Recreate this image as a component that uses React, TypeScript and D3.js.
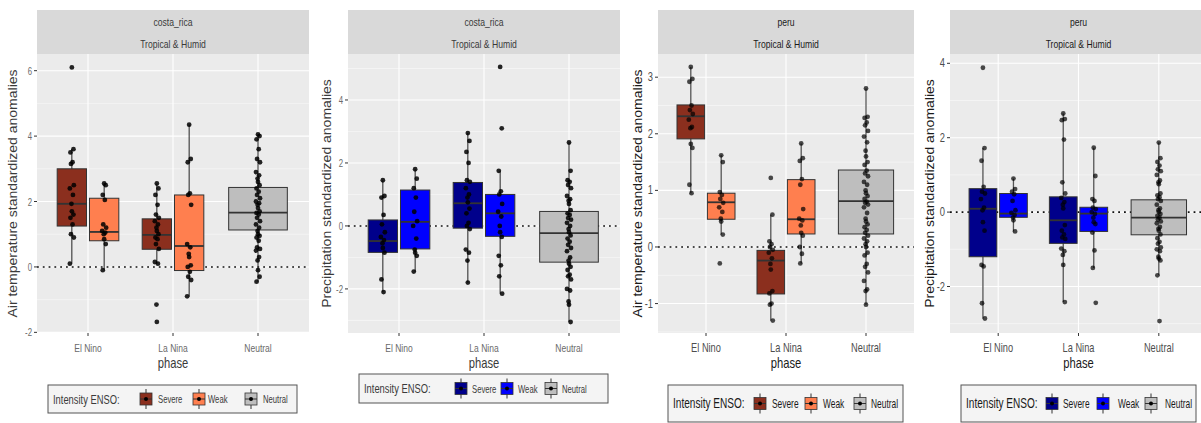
import React from "react";
import * as d3 from "d3";

// ---------- categories ----------
const phases = ["El Nino", "La Nina", "Neutral"];
const intensityLabels = ["Severe", "Weak", "Neutral"];
// group order: El Nino Severe, El Nino Weak, La Nina Severe, La Nina Weak, Neutral
const groupPhase = [0, 0, 1, 1, 2];
const groupIntensity = [0, 1, 0, 1, 2];

// ---------- Costa Rica, air temperature ----------
const crTempElNinoSevere = [6.1, 3.6, 3.5, 3.2, 3.15, 2.5, 2.4, 2.2, 1.93, 1.7, 1.6, 1.5, 1.3, 1.0, 0.9, 0.1];
const crTempElNinoWeak = [2.55, 2.5, 2.2, 2.05, 1.3, 1.2, 1.1, 1.05, 1.0, 0.85, 0.7, -0.1];
const crTempLaNinaSevere = [2.55, 2.4, 2.2, 1.9, 1.6, 1.5, 1.4, 1.3, 1.2, 1.1, 1.0, 0.9, 0.85, 0.7, 0.55, 0.15, 0.1, -1.15, -1.68];
const crTempLaNinaWeak = [4.35, 3.3, 3.2, 2.25, 2.2, 1.9, 0.7, 0.6, 0.4, 0.3, 0.05, 0.0, -0.15, -0.3, -0.4, -0.9];
const crTempNeutral = [4.05, 4.0, 3.9, 3.6, 3.3, 3.2, 2.9, 2.8, 2.7, 2.6, 2.5, 2.4, 2.3, 2.2, 2.1, 2.0, 1.95, 1.9, 1.8, 1.7, 1.65, 1.6, 1.5, 1.4, 1.3, 1.2, 1.1, 1.0, 0.95, 0.9, 0.8, 0.6, 0.55, 0.5, 0.3, 0.2, -0.1, -0.3, -0.45];
// [lower whisker, Q1, median, Q3, upper whisker]
const crTempBoxes = [
  [0.1, 1.25, 1.93, 3.0, 3.6],
  [-0.1, 0.8, 1.07, 2.1, 2.55],
  [0.1, 0.54, 0.98, 1.47, 2.55],
  [-0.9, -0.11, 0.64, 2.2, 4.35],
  [-0.45, 1.13, 1.66, 2.43, 4.05],
];

// ---------- Costa Rica, precipitation ----------
const crPrecElNinoSevere = [1.45, 0.95, 0.9, 0.35, 0.05, -0.2, -0.35, -0.45, -0.55, -0.7, -0.85, -1.7, -2.1];
const crPrecElNinoWeak = [1.8, 1.5, 1.2, 0.9, 0.45, 0.15, 0.0, -0.4, -0.75, -0.85, -0.95, -1.45];
const crPrecLaNinaSevere = [2.95, 2.7, 2.35, 2.0, 1.45, 1.4, 1.2, 1.0, 0.9, 0.75, 0.55, 0.4, 0.1, 0.0, -0.1, -0.75, -0.85, -1.1, -1.8];
const crPrecLaNinaWeak = [5.05, 3.1, 1.75, 1.1, 1.0, 0.7, 0.45, 0.3, 0.0, -0.2, -0.35, -0.95, -1.25, -1.6, -2.15];
const crPrecNeutral = [2.65, 1.75, 1.45, 1.4, 1.3, 1.2, 0.95, 0.85, 0.8, 0.7, 0.5, 0.4, 0.35, 0.25, 0.2, 0.1, 0.0, -0.1, -0.2, -0.3, -0.4, -0.5, -0.6, -0.7, -0.8, -1.0, -1.1, -1.2, -1.3, -1.4, -1.55, -1.6, -1.7, -2.0, -2.05, -2.4, -2.5, -3.05];
const crPrecBoxes = [
  [-2.1, -0.84, -0.48, 0.19, 1.45],
  [-1.45, -0.73, 0.13, 1.14, 1.8],
  [-1.8, -0.07, 0.72, 1.38, 2.95],
  [-2.15, -0.33, 0.4, 1.0, 1.75],
  [-3.05, -1.15, -0.23, 0.46, 2.65],
];

// ---------- Peru, air temperature ----------
const peTempElNinoSevere = [3.18, 2.97, 2.92, 2.5, 2.42, 2.35, 2.25, 2.12, 2.1, 1.82, 1.75, 1.1, 0.95];
const peTempElNinoWeak = [1.62, 1.5, 0.97, 0.92, 0.85, 0.78, 0.7, 0.62, 0.5, 0.45, 0.22, -0.29];
const peTempLaNinaSevere = [1.22, 0.57, 0.1, 0.05, 0.0, -0.05, -0.1, -0.2, -0.3, -0.4, -0.78, -0.82, -1.0, -1.02, -1.3];
const peTempLaNinaWeak = [1.83, 1.57, 1.52, 1.2, 1.1, 0.67, 0.5, 0.47, 0.38, 0.25, 0.2, 0.0, -0.12, -0.29];
const peTempNeutral = [2.8, 2.3, 2.28, 2.2, 2.15, 2.05, 1.95, 1.85, 1.7, 1.6, 1.5, 1.45, 1.35, 1.3, 1.25, 1.15, 1.1, 1.0, 0.95, 0.9, 0.85, 0.8, 0.78, 0.75, 0.7, 0.6, 0.5, 0.45, 0.4, 0.35, 0.3, 0.25, 0.2, 0.15, 0.1, 0.05, 0.0, -0.1, -0.15, -0.3, -0.35, -0.45, -0.6, -0.75, -0.78, -1.02];
const peTempBoxes = [
  [0.95, 1.91, 2.31, 2.51, 3.18],
  [0.22, 0.49, 0.79, 0.95, 1.62],
  [-1.3, -0.83, -0.24, -0.06, 0.57],
  [-0.29, 0.23, 0.49, 1.19, 1.83],
  [-1.02, 0.23, 0.81, 1.36, 2.8],
];

// ---------- Peru, precipitation ----------
const pePrecElNinoSevere = [3.88, 1.72, 1.38, 0.68, 0.55, 0.5, 0.35, 0.12, 0.05, -0.27, -0.5, -1.42, -1.46, -2.45, -2.86];
const pePrecElNinoWeak = [0.9, 0.62, 0.55, 0.48, 0.3, 0.05, -0.02, -0.08, -0.15, -0.22, -0.52];
const pePrecLaNinaSevere = [2.65, 2.5, 2.47, 1.95, 0.8, 0.5, 0.38, 0.27, 0.2, 0.1, -0.35, -0.5, -0.6, -0.68, -0.72, -0.98, -1.05, -1.15, -1.42, -2.42];
const pePrecLaNinaWeak = [1.73, 0.97, 0.35, 0.3, 0.12, 0.08, 0.0, -0.05, -0.15, -0.27, -0.32, -0.55, -1.03, -1.5, -2.44];
const pePrecNeutral = [1.87, 1.45, 1.35, 1.25, 1.15, 1.1, 1.0, 0.85, 0.8, 0.75, 0.5, 0.45, 0.4, 0.35, 0.3, 0.2, 0.1, 0.05, 0.0, -0.05, -0.1, -0.15, -0.2, -0.25, -0.3, -0.4, -0.45, -0.5, -0.6, -0.7, -0.8, -0.85, -0.95, -1.0, -1.05, -1.2, -1.25, -1.3, -1.7, -2.93];
const pePrecBoxes = [
  [-2.86, -1.2, 0.09, 0.63, 1.72],
  [-0.52, -0.14, -0.04, 0.5, 0.9],
  [-2.42, -0.84, -0.22, 0.41, 2.65],
  [-1.5, -0.52, -0.04, 0.13, 1.73],
  [-1.7, -0.61, -0.15, 0.33, 1.87],
];

// ---------- tick labels ----------
const crTempTicks = [-2, 0, 2, 4, 6];
const crPrecTicks = [-2, 0, 2, 4];
const peTempTicks = [-1, 0, 1, 2, 3];
const pePrecTicks = [-2, 0, 2, 4];

const tempColors = ["#8B2F1E", "#FF7F4F", "#BEBEBE"];
const precColors = ["#00008B", "#0000FF", "#BEBEBE"];

const FONT = "'Liberation Sans', Arial, sans-serif";
const SX = 0.78; // horizontal squeeze of the reference's lettering

type Cfg = {
  left: number; right: number; yDomain: [number, number];
  ticks: number[]; minor: number[];
  country: string; title: string; titleX: number;
  groups: number[][]; boxes: number[][]; colors: string[];
  legend: { x0: number; x1: number; y0: number; y1: number; keys: number[]; labels: number[] };
  soft: boolean;
};

const TOP = 10, STRIP_B = 54, BOTTOM = 333;
const jit = [0, 1.6, -1.4, 0.7, -0.9, 2.0, -2.0, 1.1, -0.4];

function HText(props: { x: number; y: number; size: number; fill: string; anchor?: string; sx?: number; children: React.ReactNode }) {
  const s = props.sx ?? SX;
  return (
    <g transform={`translate(${props.x},${props.y}) scale(${s},1)`}>
      <text x={0} y={0} textAnchor={props.anchor ?? "start"} fontSize={props.size} fill={props.fill} fontFamily={FONT}>
        {props.children}
      </text>
    </g>
  );
}

function Panel({ c }: { c: Cfg }) {
  const x = d3.scaleLinear().domain([0.4, 3.6]).range([c.left, c.right]);
  const y = d3.scaleLinear().domain(c.yDomain).range([BOTTOM, STRIP_B]);
  const u = x(1) - x(0);
  const tickCol = c.soft ? "#6a6a6a" : "#4D4D4D";
  const titleCol = c.soft ? "#3a3a3a" : "#1A1A1A";
  const tickFs = c.soft ? 10 : 12;
  return (
    <g>
      <rect x={c.left} y={STRIP_B} width={c.right - c.left} height={BOTTOM - STRIP_B} fill="#EBEBEB" />
      {c.minor.map((t) => (
        <line key={"mn" + t} x1={c.left} x2={c.right} y1={y(t)} y2={y(t)} stroke="#FAFAFA" strokeWidth={0.6} />
      ))}
      {c.ticks.map((t) => (
        <line key={"mj" + t} x1={c.left} x2={c.right} y1={y(t)} y2={y(t)} stroke="#FFFFFF" strokeWidth={1.1} />
      ))}
      {phases.map((p, i) => (
        <line key={"v" + p} x1={x(i + 1)} x2={x(i + 1)} y1={STRIP_B} y2={BOTTOM} stroke="#FFFFFF" strokeWidth={1.1} />
      ))}
      <rect x={c.left} y={TOP} width={c.right - c.left} height={STRIP_B - TOP} fill="#D9D9D9" />
      <HText x={(c.left + c.right) / 2} y={26} anchor="middle" size={10.5} fill={titleCol} sx={0.82}>{c.country}</HText>
      <HText x={(c.left + c.right) / 2} y={48} anchor="middle" size={10.5} fill={titleCol} sx={0.82}>Tropical &amp; Humid</HText>
      <line x1={c.left} x2={c.right} y1={y(0)} y2={y(0)} stroke="#111" strokeWidth={1.6} strokeDasharray="1.8,4" />
      {c.boxes.map((b, gi) => {
        const ph = groupPhase[gi] + 1;
        const it = groupIntensity[gi];
        const off = it === 2 ? 0 : it === 0 ? -0.19 : 0.19;
        const w = (it === 2 ? 0.69 : 0.345) * u;
        const cx = x(ph + off);
        return (
          <g key={"b" + gi}>
            <line x1={cx} x2={cx} y1={y(b[0])} y2={y(b[4])} stroke={c.soft ? "#222" : "#555"} strokeWidth={c.soft ? 1 : 1.3} />
            <rect x={cx - w / 2} y={y(b[3])} width={w} height={y(b[1]) - y(b[3])} fill={c.colors[it]} stroke="#333" strokeWidth={1} />
            <line x1={cx - w / 2} x2={cx + w / 2} y1={y(b[2])} y2={y(b[2])} stroke="#333" strokeWidth={1.8} />
            {c.groups[gi].map((v, i) => (
              <circle key={i} cx={cx + jit[i % jit.length]} cy={y(v)} r={2.4} fill="#000" fillOpacity={c.soft ? 0.85 : 0.7} />
            ))}
          </g>
        );
      })}
      {c.ticks.map((t) => (
        <g key={"t" + t}>
          <line x1={c.left - 3} x2={c.left} y1={y(t)} y2={y(t)} stroke="#333" strokeWidth={1} />
          <HText x={c.left - 5} y={y(t) + 4} anchor="end" size={tickFs} fill={tickCol}>{t}</HText>
        </g>
      ))}
      {phases.map((p, i) => (
        <g key={"x" + p}>
          <line x1={x(i + 1)} x2={x(i + 1)} y1={BOTTOM} y2={BOTTOM + 3} stroke="#333" strokeWidth={1} />
          <HText x={x(i + 1)} y={352} anchor="middle" size={c.soft ? 11.5 : 12.5} fill={tickCol} sx={0.74}>{p}</HText>
        </g>
      ))}
      <HText x={(c.left + c.right) / 2} y={368} anchor="middle" size={14} fill={titleCol} sx={0.8}>phase</HText>
      <g transform={`translate(${c.titleX},${(STRIP_B + BOTTOM) / 2}) rotate(-90) scale(1,0.85)`}>
        <text x={0} y={0} textAnchor="middle" fontSize={14} fill={titleCol} fontFamily={FONT}>{c.title}</text>
      </g>
      <Legend c={c} />
    </g>
  );
}

function Legend({ c }: { c: Cfg }) {
  const L = c.legend;
  const cy = (L.y0 + L.y1) / 2;
  const fs = c.soft ? 12 : 13;
  const col = c.soft ? "#3a3a3a" : "#1A1A1A";
  return (
    <g>
      <rect x={L.x0} y={L.y0} width={L.x1 - L.x0} height={L.y1 - L.y0} fill="#F4F4F4" stroke="#555" strokeWidth={1} />
      <HText x={L.x0 + 5} y={cy + 4.5} size={fs + 1} fill={col} sx={0.72}>Intensity ENSO:</HText>
      {intensityLabels.map((lab, i) => {
        const kx = L.keys[i];
        return (
          <g key={lab}>
            <line x1={kx} x2={kx} y1={cy - 10} y2={cy + 10} stroke="#333" strokeWidth={1} />
            <rect x={kx - 6} y={cy - 6} width={12} height={12} fill={c.colors[i]} stroke="#333" strokeWidth={0.8} />
            <line x1={kx - 6} x2={kx + 6} y1={cy} y2={cy} stroke="#333" strokeWidth={1} />
            <circle cx={kx} cy={cy} r={2} fill="#000" />
            <HText x={L.labels[i]} y={cy + 4} size={fs - 1} fill={col} sx={0.7}>{lab}</HText>
          </g>
        );
      })}
    </g>
  );
}

const panels: Cfg[] = [
  {
    left: 37, right: 309, yDomain: [-2.02, 6.51], ticks: crTempTicks, minor: [-1, 1, 3, 5],
    country: "costa_rica", title: "Air temperature standardized anomalies", titleX: 17,
    groups: [crTempElNinoSevere, crTempElNinoWeak, crTempLaNinaSevere, crTempLaNinaWeak, crTempNeutral],
    boxes: crTempBoxes, colors: tempColors,
    legend: { x0: 48, x1: 297, y0: 385, y1: 413, keys: [146, 199, 251], labels: [158, 208, 263] }, soft: true,
  },
  {
    left: 348, right: 620, yDomain: [-3.4, 5.46], ticks: crPrecTicks, minor: [-3, -1, 1, 3, 5],
    country: "costa_rica", title: "Precipitation standardized anomalies", titleX: 331,
    groups: [crPrecElNinoSevere, crPrecElNinoWeak, crPrecLaNinaSevere, crPrecLaNinaWeak, crPrecNeutral],
    boxes: crPrecBoxes, colors: precColors,
    legend: { x0: 359, x1: 608, y0: 374, y1: 403, keys: [461, 507, 551], labels: [472, 518, 562] }, soft: true,
  },
  {
    left: 658, right: 914, yDomain: [-1.52, 3.41], ticks: peTempTicks, minor: [-1.5, -0.5, 0.5, 1.5, 2.5],
    country: "peru", title: "Air temperature standardized anomalies", titleX: 642,
    groups: [peTempElNinoSevere, peTempElNinoWeak, peTempLaNinaSevere, peTempLaNinaWeak, peTempNeutral],
    boxes: peTempBoxes, colors: tempColors,
    legend: { x0: 668, x1: 903, y0: 385, y1: 422, keys: [760, 811, 860], labels: [772, 823, 871] }, soft: false,
  },
  {
    left: 950, right: 1207, yDomain: [-3.25, 4.25], ticks: pePrecTicks, minor: [-3, -1, 1, 3],
    country: "peru", title: "Precipitation standardized anomalies", titleX: 934,
    groups: [pePrecElNinoSevere, pePrecElNinoWeak, pePrecLaNinaSevere, pePrecLaNinaWeak, pePrecNeutral],
    boxes: pePrecBoxes, colors: precColors,
    legend: { x0: 961, x1: 1196, y0: 385, y1: 422, keys: [1052, 1103, 1151], labels: [1063, 1118, 1165] }, soft: false,
  },
];

export default function App() {
  return (
    <svg width={1201} height={423} style={{ position: "absolute", left: 0, top: 0, background: "#fff" }}>
      <rect x={0} y={0} width={1201} height={423} fill="#fff" />
      {panels.map((c, i) => (
        <Panel key={i} c={c} />
      ))}
    </svg>
  );
}
